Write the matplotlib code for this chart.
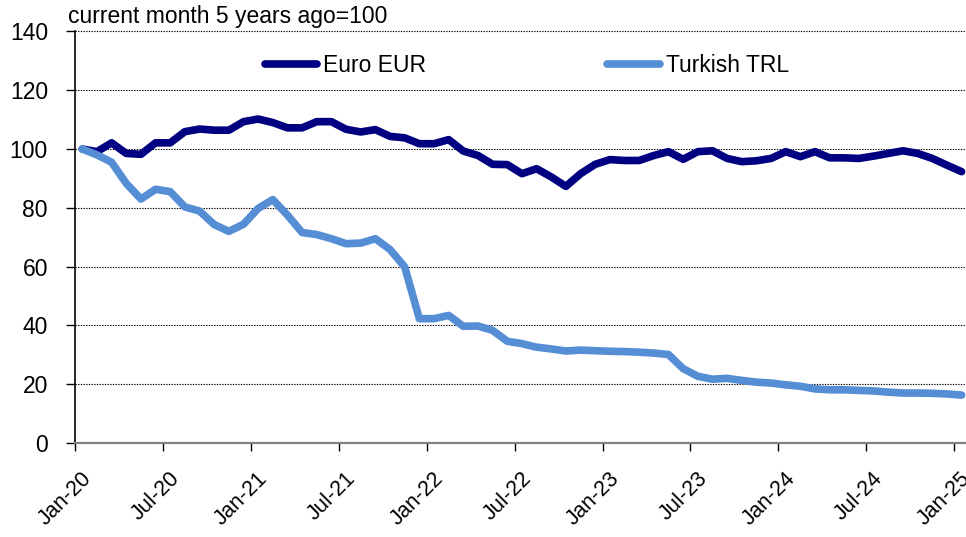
import numpy as np
import matplotlib

matplotlib.use("Agg")
import matplotlib.pyplot as plt
from matplotlib.transforms import ScaledTranslation

# --- data (monthly index, current month 5 years ago = 100) -----------------
TICK_LABELS = ["Jan-20", "Jul-20", "Jan-21", "Jul-21", "Jan-22", "Jul-22",
               "Jan-23", "Jul-23", "Jan-24", "Jul-24", "Jan-25"]

eur = [100, 99.1, 102.1, 98.5, 98.2, 102.1, 102.1, 105.9, 106.8, 106.4,
       106.4, 109.3, 110.2, 109.0, 107.2, 107.2, 109.3, 109.3, 106.7, 105.8,
       106.6, 104.3, 103.8, 101.8, 101.8, 103.2, 99.3, 97.8, 94.8, 94.7,
       91.6, 93.3, 90.5, 87.3, 91.6, 94.8, 96.4, 96.1, 96.1, 97.8,
       99.1, 96.5, 99.1, 99.4, 96.8, 95.7, 96.0, 96.8, 99.1, 97.4,
       99.1, 97.0, 97.0, 96.8, 97.6, 98.5, 99.4, 98.5, 96.8, 94.5, 92.3]

trl = [100, 98.0, 95.5, 88.3, 83.0, 86.3, 85.5, 80.3, 78.9, 74.3,
       72.0, 74.4, 79.8, 82.8, 77.5, 71.6, 70.9, 69.5, 67.8, 68.0,
       69.5, 65.8, 59.9, 42.3, 42.3, 43.4, 39.7, 39.8, 38.3, 34.6,
       33.8, 32.6, 32.0, 31.3, 31.6, 31.4, 31.2, 31.1, 30.9, 30.6,
       30.1, 25.3, 22.7, 21.7, 22.0, 21.3, 20.7, 20.4, 19.8, 19.3,
       18.4, 18.1, 18.1, 17.9, 17.7, 17.3, 17.0, 17.0, 16.9, 16.7, 16.3]

NAVY, LIGHT = "#000080", "#558ED5"
FS = 16.5

plt.rcParams["font.family"] = ["Liberation Sans", "DejaVu Sans"]

fig = plt.figure(figsize=(9.66, 5.37), dpi=100)
ax = fig.add_axes([0.0776, 0.175, 1 - 0.0776, 0.7665])

x = np.arange(len(eur)) + 0.5   # points sit mid-category, like Excel
ax.plot(x, eur, color=NAVY, lw=5.5, solid_capstyle="round",
        solid_joinstyle="round", label="Euro EUR", zorder=3)
ax.plot(x, trl, color=LIGHT, lw=5.5, solid_capstyle="round",
        solid_joinstyle="round", label="Turkish TRL", zorder=3)

ax.set_xlim(0, 60.8)
ax.set_ylim(0, 140)
ax.set_yticks(range(0, 141, 20))
ax.set_xticks(np.arange(0, 61, 6))
ax.set_xticklabels(TICK_LABELS, rotation=45, ha="right", rotation_mode="anchor")

ax.grid(axis="y", color="black", lw=0.8, ls=(0, (1.2, 1.2)))
ax.set_axisbelow(True)
for s in ("top", "right"):
    ax.spines[s].set_visible(False)
ax.spines["left"].set_linewidth(1.2)
ax.spines["bottom"].set_color("#808080")
ax.spines["bottom"].set_linewidth(1.6)
ax.tick_params(axis="y", length=6.5, width=1, labelsize=FS, pad=13)
ax.tick_params(axis="x", length=6, width=1, labelsize=15.5, pad=5)

# push rotated date labels down/right like Excel places them
shift = ScaledTranslation(6 / 100, -10 / 100, fig.dpi_scale_trans)
for lab in ax.get_xticklabels():
    lab.set_transform(lab.get_transform() + shift)

ax.legend(loc="center", bbox_to_anchor=(0.507, 0.916), ncol=2, frameon=False,
          fontsize=FS, handlelength=2.3, handletextpad=0.25,
          columnspacing=7.9)

fig.text(0.07, 0.991, "current month 5 years ago=100", ha="left", va="top",
         fontsize=FS)

fig.savefig("out.png", dpi=100)
